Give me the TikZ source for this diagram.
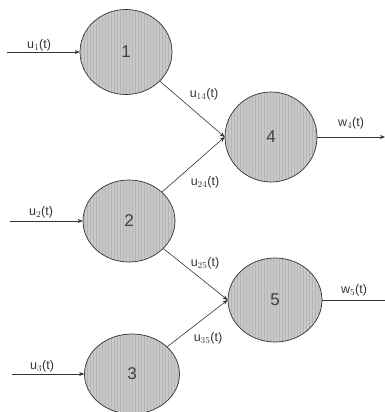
\documentclass[tikz,border=0pt]{standalone}
\usepackage{fontspec}
\setmainfont{Liberation Sans}
\usetikzlibrary{arrows.meta,shapes.geometric,patterns}
\begin{document}
\begin{tikzpicture}[x=1pt,y=-1pt,
  proc/.style={ellipse, draw=black!80, line width=0.7pt, preaction={fill=gray!42}, pattern=vertical lines, pattern color=gray!58, inner sep=0pt, font=\fontsize{17}{17}\selectfont, text=black!75},
  conn/.style={draw=black!80, line width=0.6pt, -{Stealth[length=5pt,width=4pt]}},
  plain/.style={draw=black!80, line width=0.6pt},
  lbl/.style={font=\fontsize{12.5}{12.5}\selectfont, text=black!80, inner sep=0pt}]
\useasboundingbox (0,0) rectangle (385,412);
\node[proc, minimum width=92pt, minimum height=85pt] (n1) at (126,52) {1};
\node[proc, minimum width=92pt, minimum height=82pt] (n2) at (129,221) {2};
\node[proc, minimum width=95pt, minimum height=80pt] (n3) at (132,374) {3};
\node[proc, minimum width=92pt, minimum height=90pt] (n4) at (271,137) {4};
\node[proc, minimum width=94pt, minimum height=84pt] (n5) at (275,300) {5};
\coordinate (i1) at (7,52);
\coordinate (i2) at (10,221);
\coordinate (i3) at (12,374);
\coordinate (o4) at (385,137);
\coordinate (o5) at (385,300);
\draw[conn] (i1) -- (n1.west);
\draw[conn] (i2) -- (n2.west);
\draw[conn] (i3) -- (n3.west);
\draw[conn] (n1) -- (n4.west);
\draw[conn] (n2) -- (n4.west);
\draw[conn] (n2) -- (n5.west);
\draw[conn] (n3) -- (n5.west);
\draw[conn] (n4.east) -- (o4);
\draw[plain] (n5.east) -- (o5);
\node[lbl] (l1) at (39,45) {u$_{1}$(t)};
\node[lbl] (l2) at (41,212) {u$_{2}$(t)};
\node[lbl] (l3) at (42,366) {u$_{3}$(t)};
\node[lbl] (l14) at (204,94) {u$_{14}$(t)};
\node[lbl] (l24) at (205,182) {u$_{24}$(t)};
\node[lbl] (l25) at (205,263) {u$_{25}$(t)};
\node[lbl] (l35) at (208,338) {u$_{35}$(t)};
\node[lbl] (w4) at (351,123) {w$_{4}$(t)};
\node[lbl] (w5) at (354,290) {w$_{5}$(t)};
\end{tikzpicture}
\end{document}
